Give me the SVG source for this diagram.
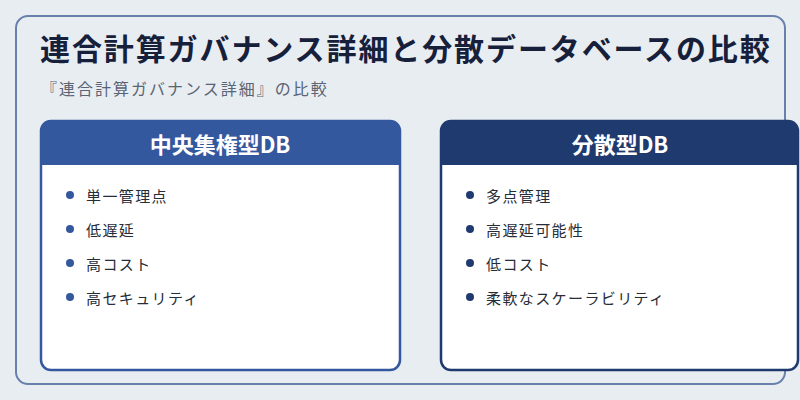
<svg xmlns="http://www.w3.org/2000/svg" width="800" height="400" viewBox="0 0 800 400">
<style>
.jp{font-family:"Noto Sans CJK JP","Noto Sans",sans-serif}
.title{font-size:30px;font-weight:700;fill:#17203a;letter-spacing:1.9px}
.sub{font-size:16px;fill:#5b6472;letter-spacing:2px}
.head{font-size:22px;font-weight:700;fill:#ffffff}
.item{font-size:15px;fill:#262c38;letter-spacing:1.4px}
</style>
<rect width="800" height="400" fill="#e8edf2"/>
<rect x="16" y="16" width="769" height="368" rx="12" fill="#e8edf2" stroke="#6a80ac" stroke-width="2"/>
<text class="jp title" x="40" y="60">連合計算ガバナンス詳細と分散データベースの比較</text>
<text class="jp sub" x="41" y="95">『連合計算ガバナンス詳細』の比較</text>
<g id="central">
<rect x="41" y="121" width="359" height="249" rx="10" fill="#ffffff" stroke="#34589e" stroke-width="2.5"/>
<path d="M41 165 V131 A10 10 0 0 1 51 121 H390 A10 10 0 0 1 400 131 V165 Z" fill="#34589e"/>
<text class="jp head" x="220" y="153" text-anchor="middle">中央集権型DB</text>
<g fill="#34589e"><circle cx="70" cy="195" r="4"/><circle cx="70" cy="229" r="4"/><circle cx="70" cy="263" r="4"/><circle cx="70" cy="297" r="4"/></g>
<text class="jp item" x="86" y="202">単一管理点</text>
<text class="jp item" x="86" y="236">低遅延</text>
<text class="jp item" x="86" y="270">高コスト</text>
<text class="jp item" x="86" y="304">高セキュリティ</text>
</g>
<g id="distributed">
<rect x="441" y="121" width="357" height="249" rx="10" fill="#ffffff" stroke="#1f3a6e" stroke-width="2.5"/>
<path d="M441 165 V131 A10 10 0 0 1 451 121 H788 A10 10 0 0 1 798 131 V165 Z" fill="#1f3a6e"/>
<text class="jp head" x="620" y="153" text-anchor="middle">分散型DB</text>
<g fill="#1f3a6e"><circle cx="470" cy="195" r="4"/><circle cx="470" cy="229" r="4"/><circle cx="470" cy="263" r="4"/><circle cx="470" cy="297" r="4"/></g>
<text class="jp item" x="486" y="202">多点管理</text>
<text class="jp item" x="486" y="236">高遅延可能性</text>
<text class="jp item" x="486" y="270">低コスト</text>
<text class="jp item" x="486" y="304">柔軟なスケーラビリティ</text>
</g>
<g id="connectors"/>
</svg>
